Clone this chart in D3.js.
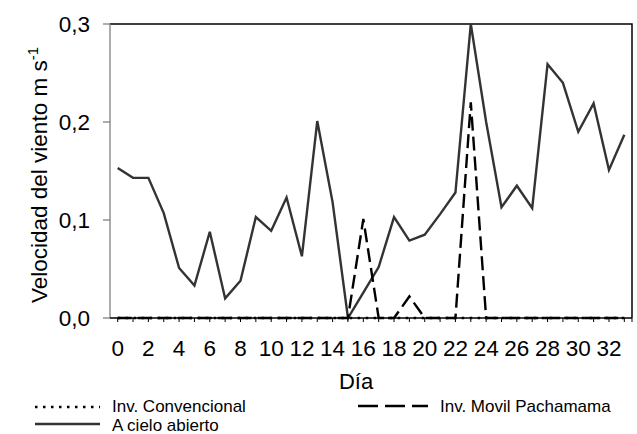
<!DOCTYPE html>
<html>
<head>
<meta charset="utf-8">
<script src="https://cdn.jsdelivr.net/npm/d3@7"></script>
<style>
  body { margin: 0; background: #fff; }
  text { font-family: "Liberation Sans", Arial, sans-serif; fill: #000; }
</style>
</head>
<body>
<svg id="chart" width="637" height="434"></svg>
<script>
// dias 0..33
const days = d3.range(0, 34);
const yTicks = [0, 0.1, 0.2, 0.3];

// Velocidad del viento (m s-1)
const convencional = [0,0,0,0,0,0,0,0,0,0,0,0,0,0,0,0,0,0,0,0,0,0,0,0,0,0,0,0,0,0,0,0,0,0];
const pachamama = [0,0,0,0,0,0,0,0,0,0,0,0,0,0,0,0,0.101,0,0,0.022,0,0,0,0.22,0,0,0,0,0,0,0,0,0,0];
const cieloAbierto = [0.153,0.143,0.143,0.107,0.051,0.033,0.088,0.020,0.038,0.103,0.089,0.123,0.063,0.201,0.118,0,
  0.026,0.052,0.103,0.079,0.085,0.106,0.128,0.3,0.2,0.113,0.135,0.112,0.259,0.240,0.19,0.219,0.151,0.187];

const svg = d3.select("#chart");
const margin = { top: 24, right: 5, bottom: 116, left: 110 };
const width = 637 - margin.left - margin.right;
const height = 434 - margin.top - margin.bottom;

const x = d3.scaleBand().domain(days).range([0, width]);
const cx = d => x(d) + x.bandwidth() / 2;
const y = d3.scaleLinear().domain([0, 0.3]).range([height, 0]);

const g = svg.append("g").attr("transform", `translate(${margin.left},${margin.top})`);

// marco superior y derecho
g.append("path")
  .attr("d", `M0,0H${width}V${height}`)
  .attr("fill", "none").attr("stroke", "#000").attr("stroke-width", 1.5);

// eje y
const fmt = d => d3.format(".1f")(d).replace(".", ",");
g.append("line").attr("x1", 0).attr("x2", 0).attr("y1", 0).attr("y2", height)
  .attr("stroke", "#808080").attr("stroke-width", 1.3);
g.selectAll(".ytick").data(yTicks).enter().append("line")
  .attr("x1", -7).attr("x2", 0).attr("y1", d => y(d)).attr("y2", d => y(d))
  .attr("stroke", "#808080").attr("stroke-width", 1.3);
g.selectAll(".ylab").data(yTicks).enter().append("text")
  .attr("x", -20).attr("y", d => y(d)).attr("dy", "0.35em")
  .attr("text-anchor", "end").attr("font-size", 22.5)
  .text(fmt);

// eje x
g.append("line").attr("x1", 0).attr("x2", width).attr("y1", height).attr("y2", height)
  .attr("stroke", "#000").attr("stroke-width", 1.5);
g.selectAll(".xtick").data(days).enter().append("line")
  .attr("x1", d => cx(d)).attr("x2", d => cx(d)).attr("y1", height).attr("y2", height + 4)
  .attr("stroke", "#000").attr("stroke-width", 1);
g.append("line").attr("x1", width).attr("x2", width).attr("y1", height).attr("y2", height + 4)
  .attr("stroke", "#000").attr("stroke-width", 1);
g.selectAll(".xlab").data(days.filter(d => d % 2 === 0)).enter().append("text")
  .attr("x", d => cx(d)).attr("y", height + 38)
  .attr("text-anchor", "middle").attr("font-size", 22.5)
  .text(d => d);

// titulos de ejes
svg.append("text")
  .attr("x", 356).attr("y", 389)
  .attr("text-anchor", "middle").attr("font-size", 22)
  .text("Día");
const yl = svg.append("text")
  .attr("transform", `translate(47,${margin.top + height / 2 + 4}) rotate(-90)`)
  .attr("text-anchor", "middle").attr("font-size", 22.5);
yl.append("tspan").text("Velocidad del viento m s");
yl.append("tspan").attr("dy", -9).attr("font-size", 15).text("-1");

// series
const line = d3.line().x((d, i) => cx(days[i])).y(d => y(d));
const series = [
  { name: "A cielo abierto", values: cieloAbierto, dash: null, legDash: null, color: "#333", w: 2.4 },
  { name: "Inv. Movil Pachamama", values: pachamama, dash: "14,6", legDash: "20,7", color: "#000", w: 2.4 },
  { name: "Inv. Convencional", values: convencional, dash: "2.5,5.5", legDash: "2.5,5.5", color: "#000", w: 2.5 }
];
series.forEach(s => {
  g.append("path").datum(s.values)
    .attr("d", line)
    .attr("fill", "none")
    .attr("stroke", s.color)
    .attr("stroke-width", s.w)
    .attr("stroke-dasharray", s.dash)
    .attr("stroke-linejoin", "miter");
});

// leyenda
const legend = [
  { s: series[2], x: 35, y: 407, ty: 412, len: 65 },
  { s: series[1], x: 358, y: 406, ty: 412, len: 70 },
  { s: series[0], x: 35, y: 424, ty: 431, len: 65 }
];
legend.forEach(l => {
  svg.append("line")
    .attr("x1", l.x).attr("x2", l.x + l.len)
    .attr("y1", l.y).attr("y2", l.y)
    .attr("stroke", l.s.color).attr("stroke-width", l.s.w)
    .attr("stroke-dasharray", l.s.legDash);
  svg.append("text")
    .attr("x", l.x + l.len + 12).attr("y", l.ty)
    .attr("font-size", 17)
    .text(l.s.name);
});
</script>
</body>
</html>
